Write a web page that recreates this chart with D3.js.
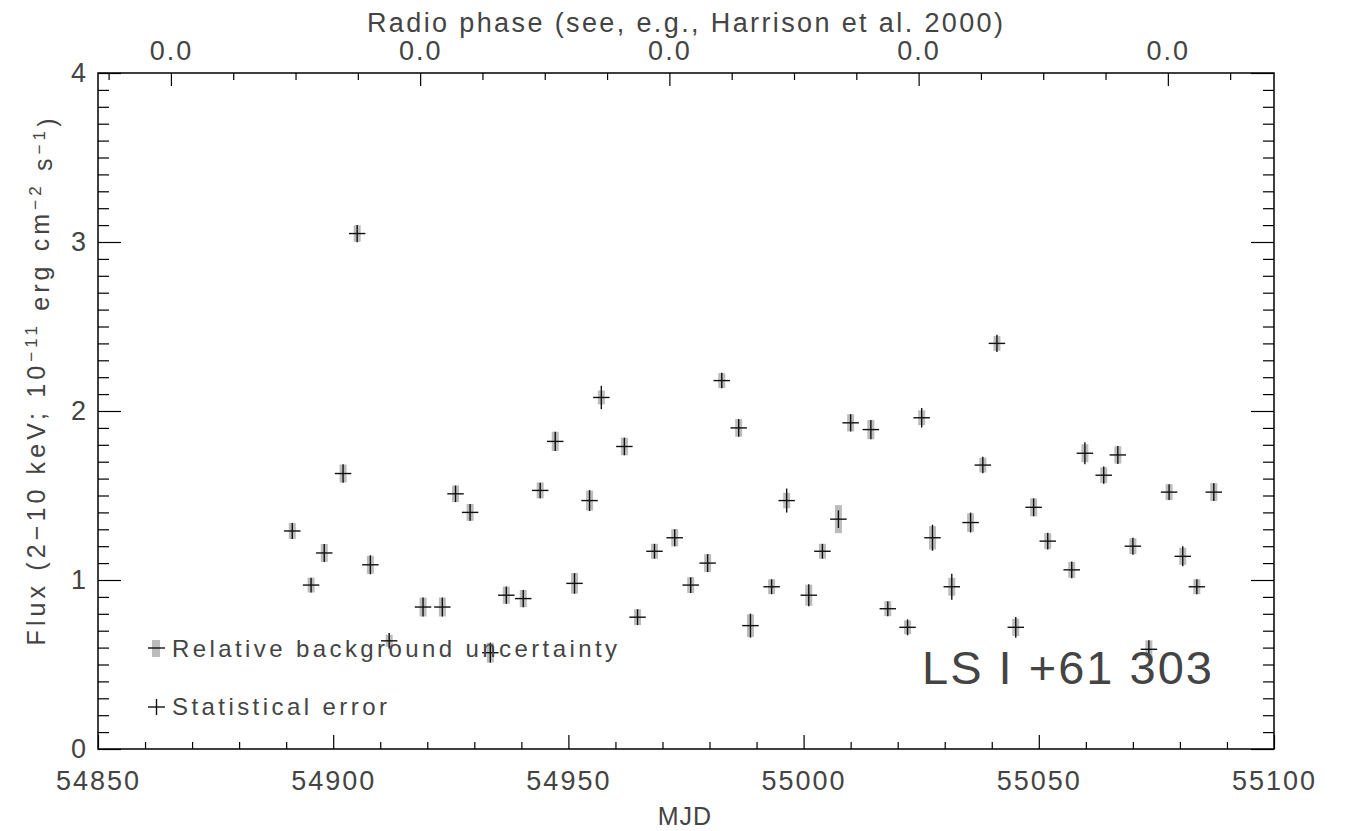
<!doctype html>
<html>
  <head>
    <script src="https://d3js.org/d3.v7.min.js"></script>
    <style>
      body { margin: 0; background: #fff; }
      svg { display: block; }
      text { font-family: "Liberation Sans", Arial, sans-serif; fill: #444; }
      .tick line { stroke: #000; stroke-width: 1.2px; }
      .tick text { font-size: 27px; letter-spacing: 2px; fill: #444; }
    </style>
  </head>
  <body>
    <svg id="chart" width="1348" height="831"></svg>
    <script>
      // observation times (MJD) and 2-10 keV flux, 1e-11 erg/cm2/s
      var mjd = [54891.3, 54895.3, 54898.1, 54902.1, 54905.1, 54907.9, 54911.9, 54919.1, 54923.2, 54926.0,
                 54929.1, 54933.4, 54936.8, 54940.4, 54944.0, 54947.2, 54951.3, 54954.5, 54957.0, 54961.9,
                 54964.7, 54968.3, 54972.6, 54976.0, 54979.6, 54982.6, 54986.2, 54988.7, 54993.2, 54996.4,
                 55001.1, 55004.0, 55007.4, 55010.0, 55014.3, 55017.9, 55022.1, 55025.1, 55027.4, 55031.5,
                 55035.5, 55038.1, 55041.1, 55045.1, 55048.9, 55051.9, 55057.0, 55059.8, 55063.8, 55066.8,
                 55070.0, 55073.4, 55077.7, 55080.6, 55083.6, 55087.2];
      var flux = [1.29, 0.97, 1.16, 1.63, 3.05, 1.09, 0.64, 0.84, 0.84, 1.51,
                  1.40, 0.57, 0.91, 0.89, 1.53, 1.82, 0.98, 1.47, 2.08, 1.79,
                  0.78, 1.17, 1.25, 0.97, 1.10, 2.18, 1.90, 0.73, 0.96, 1.47,
                  0.91, 1.17, 1.36, 1.93, 1.89, 0.83, 0.72, 1.96, 1.25, 0.96,
                  1.34, 1.68, 2.40, 0.72, 1.43, 1.23, 1.06, 1.75, 1.62, 1.74,
                  1.20, 0.59, 1.52, 1.14, 0.96, 1.52];
      var statErr = [0.047, 0.044, 0.053, 0.055, 0.051, 0.056, 0.047, 0.056, 0.056, 0.049,
                     0.050, 0.059, 0.051, 0.051, 0.046, 0.057, 0.061, 0.062, 0.069, 0.052,
                     0.047, 0.044, 0.051, 0.047, 0.053, 0.046, 0.052, 0.071, 0.044, 0.071,
                     0.065, 0.044, 0.052, 0.051, 0.057, 0.044, 0.047, 0.058, 0.077, 0.077,
                     0.059, 0.049, 0.051, 0.061, 0.053, 0.050, 0.050, 0.065, 0.051, 0.053,
                     0.050, 0.053, 0.047, 0.059, 0.044, 0.053];
      var bkgErr = [0.047, 0.044, 0.053, 0.053, 0.049, 0.053, 0.036, 0.056, 0.056, 0.049,
                    0.050, 0.059, 0.051, 0.051, 0.047, 0.057, 0.061, 0.059, 0.041, 0.052,
                    0.047, 0.044, 0.051, 0.047, 0.053, 0.044, 0.052, 0.067, 0.044, 0.046,
                    0.062, 0.044, 0.083, 0.051, 0.057, 0.044, 0.041, 0.044, 0.069, 0.053,
                    0.055, 0.044, 0.044, 0.051, 0.053, 0.047, 0.047, 0.053, 0.047, 0.051,
                    0.047, 0.053, 0.047, 0.051, 0.044, 0.053];
      var mjdErr = 1.75; // half exposure bin, days

      var xTicks = [54850, 54900, 54950, 55000, 55050, 55100];
      var yTicks = [0, 1, 2, 3, 4];
      // radio phase: zero epoch and orbital period (days)
      var phaseZero = 54865.5;
      var period = 26.4917;

      var plotL = 98, plotR = 1274, plotT = 73, plotB = 749;
      var svg = d3.select("svg#chart");

      var x = d3.scaleLinear().domain([54850, 55100]).range([plotL, plotR]);
      var y = d3.scaleLinear().domain([0, 4]).range([plotB, plotT]);
      var xPhase = d3.scaleLinear()
        .domain([(54850 - phaseZero) / period, (55100 - phaseZero) / period])
        .range([plotL, plotR]);

      var xMinor = d3.range(54850, 55101, 10).filter(d => d % 50 != 0);
      var yMinor = d3.range(0, 41).map(d => d / 10).filter(d => d % 1 != 0);
      var phMajor = d3.range(0, 9, 2);
      var phMinor = d3.range(-1, 9, 0.5).filter(d => d % 2 != 0 && d >= xPhase.domain()[0] && d <= xPhase.domain()[1]);

      function drawAxis(axis, tr) {
        var g = svg.append("g").attr("transform", tr).call(axis);
        g.select(".domain").remove();
        return g;
      }

      // bottom MJD axis
      drawAxis(d3.axisBottom(x).tickValues(xTicks).tickSize(-14).tickPadding(22).tickFormat(d3.format("d")), "translate(0," + plotB + ")");
      drawAxis(d3.axisBottom(x).tickValues(xMinor).tickSize(-7).tickFormat(""), "translate(0," + plotB + ")");

      // left / right flux axes
      drawAxis(d3.axisLeft(y).tickValues(yTicks).tickSize(-23).tickPadding(10).tickFormat(d3.format("d")), "translate(" + plotL + ",0)");
      drawAxis(d3.axisLeft(y).tickValues(yMinor).tickSize(-11).tickFormat(""), "translate(" + plotL + ",0)");
      drawAxis(d3.axisRight(y).tickValues(yTicks).tickSize(-23).tickFormat(""), "translate(" + plotR + ",0)");
      drawAxis(d3.axisRight(y).tickValues(yMinor).tickSize(-11).tickFormat(""), "translate(" + plotR + ",0)");

      // top radio phase axis
      drawAxis(d3.axisTop(xPhase).tickValues(phMajor).tickSize(-13).tickPadding(13)
        .tickFormat(d => (((d % 1) + 1) % 1).toFixed(1)), "translate(0," + plotT + ")");
      drawAxis(d3.axisTop(xPhase).tickValues(phMinor).tickSize(-7).tickFormat(""), "translate(0," + plotT + ")");

      // frame
      svg.append("rect")
        .attr("x", plotL).attr("y", plotT)
        .attr("width", plotR - plotL).attr("height", plotB - plotT)
        .attr("fill", "none").attr("stroke", "#000").attr("stroke-width", 1.5);

      // axis titles
      svg.append("text")
        .attr("x", 685).attr("y", 32)
        .attr("text-anchor", "middle")
        .style("font-size", "27px")
        .attr("textLength", 636).attr("lengthAdjust", "spacing")
        .text("Radio phase (see, e.g., Harrison et al. 2000)");

      svg.append("text")
        .attr("x", 685).attr("y", 825)
        .attr("text-anchor", "middle")
        .style("font-size", "25px")
        .attr("letter-spacing", "1px")
        .text("MJD");

      var ylab = svg.append("text")
        .attr("transform", "translate(45,382) rotate(-90)")
        .attr("text-anchor", "middle")
        .style("font-size", "25px")
        .attr("textLength", 527).attr("lengthAdjust", "spacing");
      ylab.append("tspan").text("Flux (2\u221210 keV; 10");
      ylab.append("tspan").attr("dy", "-0.45em").style("font-size", "17px").text("\u221211");
      ylab.append("tspan").attr("dy", "0.45em").text(" erg cm");
      ylab.append("tspan").attr("dy", "-0.45em").style("font-size", "17px").text("\u22122");
      ylab.append("tspan").attr("dy", "0.45em").text(" s");
      ylab.append("tspan").attr("dy", "-0.45em").style("font-size", "17px").text("\u22121");
      ylab.append("tspan").attr("dy", "0.45em").text(")");

      // data points: grey background band, black statistical cross
      var pts = d3.range(mjd.length);
      var g = svg.append("g");

      g.selectAll("rect.bkg")
        .data(pts)
        .enter()
        .append("rect")
          .attr("class", "bkg")
          .attr("x", i => x(mjd[i]) - 3.5)
          .attr("width", 7)
          .attr("y", i => y(flux[i] + bkgErr[i]))
          .attr("height", i => y(flux[i] - bkgErr[i]) - y(flux[i] + bkgErr[i]))
          .attr("fill", "#bcbcbc");

      g.selectAll("line.hbar")
        .data(pts)
        .enter()
        .append("line")
          .attr("x1", i => x(mjd[i] - mjdErr))
          .attr("x2", i => x(mjd[i] + mjdErr))
          .attr("y1", i => y(flux[i]))
          .attr("y2", i => y(flux[i]))
          .attr("stroke", "#111").attr("stroke-width", 1.4);

      g.selectAll("line.vbar")
        .data(pts)
        .enter()
        .append("line")
          .attr("x1", i => x(mjd[i]))
          .attr("x2", i => x(mjd[i]))
          .attr("y1", i => y(flux[i] - statErr[i]))
          .attr("y2", i => y(flux[i] + statErr[i]))
          .attr("stroke", "#111").attr("stroke-width", 1.4);

      // legend
      svg.append("rect").attr("x", 152).attr("y", 640).attr("width", 8).attr("height", 17).attr("fill", "#bcbcbc");
      svg.append("line").attr("x1", 148).attr("x2", 165).attr("y1", 648).attr("y2", 648).attr("stroke", "#111").attr("stroke-width", 1.4);
      svg.append("line").attr("x1", 148).attr("x2", 165).attr("y1", 707).attr("y2", 707).attr("stroke", "#111").attr("stroke-width", 1.4);
      svg.append("line").attr("x1", 156.5).attr("x2", 156.5).attr("y1", 699).attr("y2", 715).attr("stroke", "#111").attr("stroke-width", 1.4);

      svg.append("text")
        .attr("x", 172).attr("y", 657)
        .style("font-size", "24px")
        .attr("textLength", 445).attr("lengthAdjust", "spacing")
        .text("Relative background uncertainty");
      svg.append("text")
        .attr("x", 172).attr("y", 715)
        .style("font-size", "24px")
        .attr("textLength", 215).attr("lengthAdjust", "spacing")
        .text("Statistical error");

      svg.append("text")
        .attr("x", 922).attr("y", 684)
        .style("font-size", "47px")
        .attr("textLength", 290).attr("lengthAdjust", "spacing")
        .text("LS I +61 303");
    </script>
  </body>
</html>
